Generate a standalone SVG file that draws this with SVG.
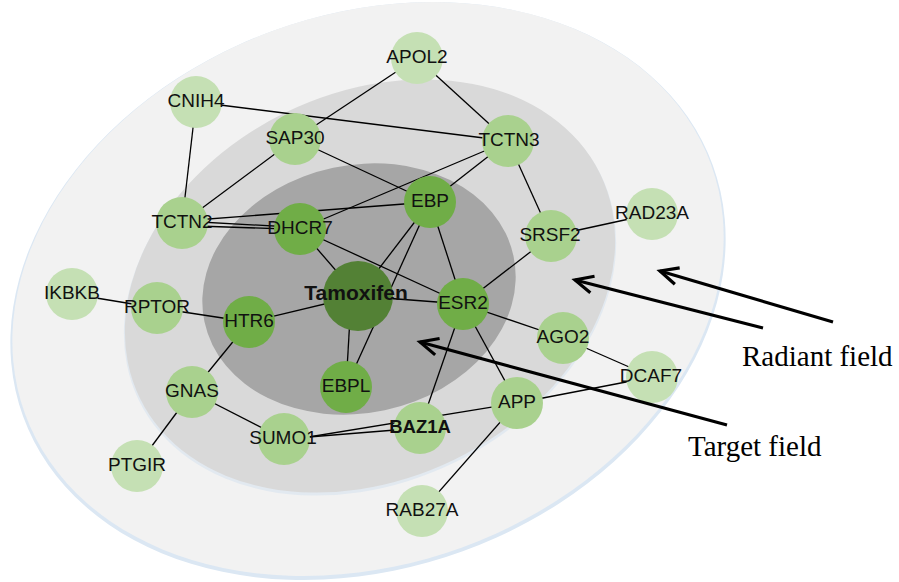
<svg xmlns="http://www.w3.org/2000/svg" width="899" height="582" viewBox="0 0 899 582">
<defs>
<style>
.edge{stroke:#000;stroke-width:1.3;fill:none}
.n1{fill:#c5e0b4}
.n2{fill:#a9d18e}
.n3{fill:#70ad47}
.n4{fill:#538135}
.lbl{font-family:"Liberation Sans",Arial,sans-serif;font-size:19px;fill:#111;text-anchor:middle}
.bold{font-weight:bold}
.arrow{stroke:#000;stroke-width:3.2;fill:none}
.cap{font-family:"Liberation Serif","Times New Roman",serif;font-size:29px;fill:#000}
</style>
<marker id="ah" markerUnits="userSpaceOnUse" viewBox="-24 -14 28 28" refX="0" refY="0" markerWidth="28" markerHeight="28" orient="auto" overflow="visible">
<path d="M-18,-8.5 L0,0 L-18,8.5" fill="none" stroke="#000" stroke-width="3.2" stroke-linejoin="miter"/>
</marker>
</defs>
<rect width="899" height="582" fill="#fff"/>
<g id="fields">
<ellipse cx="368" cy="291" rx="367" ry="277" transform="rotate(-20 368 291)" fill="#dbe7f3"/>
<ellipse cx="368" cy="289" rx="365" ry="275" transform="rotate(-20 368 289)" fill="#f2f2f2"/>
<ellipse cx="370" cy="288" rx="257" ry="194" transform="rotate(-26 370 288)" fill="#e2e9f0"/>
<ellipse cx="370" cy="286" rx="256" ry="193" transform="rotate(-26 370 286)" fill="#d9d9d9"/>
<ellipse cx="359" cy="289" rx="158" ry="124" transform="rotate(-12 359 289)" fill="#a6a6a6"/>
</g>
<g id="edges">
<line class="edge" x1="417" y1="58" x2="295" y2="139"/>
<line class="edge" x1="417" y1="58" x2="508" y2="141"/>
<line class="edge" x1="196" y1="102" x2="508" y2="141"/>
<line class="edge" x1="196" y1="102" x2="182" y2="223"/>
<line class="edge" x1="295" y1="139" x2="182" y2="223"/>
<line class="edge" x1="295" y1="139" x2="430" y2="202"/>
<line class="edge" x1="508" y1="141" x2="300" y2="229"/>
<line class="edge" x1="508" y1="141" x2="430" y2="202"/>
<line class="edge" x1="508" y1="141" x2="551" y2="236"/>
<line class="edge" x1="182" y1="221" x2="430" y2="202"/>
<line class="edge" x1="182" y1="221" x2="300" y2="227.5"/>
<line class="edge" x1="182" y1="225.5" x2="300" y2="229.5"/>
<line class="edge" x1="300" y1="229" x2="358" y2="296"/>
<line class="edge" x1="300" y1="229" x2="463" y2="304"/>
<line class="edge" x1="430" y1="202" x2="358" y2="296"/>
<line class="edge" x1="430" y1="202" x2="346" y2="387"/>
<line class="edge" x1="430" y1="202" x2="463" y2="304"/>
<line class="edge" x1="358" y1="296" x2="463" y2="304"/>
<line class="edge" x1="358" y1="296" x2="249" y2="322"/>
<line class="edge" x1="351" y1="300" x2="346" y2="387"/>
<line class="edge" x1="463" y1="304" x2="551" y2="236"/>
<line class="edge" x1="463" y1="304" x2="563" y2="338"/>
<line class="edge" x1="463" y1="304" x2="517" y2="403"/>
<line class="edge" x1="463" y1="304" x2="420" y2="428"/>
<line class="edge" x1="551" y1="236" x2="652" y2="214"/>
<line class="edge" x1="563" y1="338" x2="652" y2="377"/>
<line class="edge" x1="517" y1="403" x2="652" y2="377"/>
<line class="edge" x1="517" y1="403" x2="284" y2="441"/>
<line class="edge" x1="420" y1="428" x2="284" y2="439"/>
<line class="edge" x1="517" y1="403" x2="422" y2="511"/>
<line class="edge" x1="72" y1="294" x2="157" y2="308"/>
<line class="edge" x1="157" y1="308" x2="249" y2="322"/>
<line class="edge" x1="249" y1="322" x2="192" y2="392"/>
<line class="edge" x1="192" y1="392" x2="284" y2="439"/>
<line class="edge" x1="192" y1="392" x2="137" y2="466"/>
</g>
<g id="node-APOL2"><circle class="n1" cx="417" cy="58" r="26"/><text class="lbl" x="417" y="63">APOL2</text></g>
<g id="node-CNIH4"><circle class="n1" cx="196" cy="102" r="26"/><text class="lbl" x="196" y="107">CNIH4</text></g>
<g id="node-SAP30"><circle class="n2" cx="295" cy="139" r="26"/><text class="lbl" x="295" y="144">SAP30</text></g>
<g id="node-TCTN3"><circle class="n2" cx="508" cy="141" r="26"/><text class="lbl" x="509" y="146">TCTN3</text></g>
<g id="node-TCTN2"><circle class="n2" cx="182" cy="223" r="26"/><text class="lbl" x="182" y="228">TCTN2</text></g>
<g id="node-DHCR7"><circle class="n3" cx="300" cy="229" r="26"/><text class="lbl" x="300" y="234">DHCR7</text></g>
<g id="node-EBP"><circle class="n3" cx="430" cy="202" r="26"/><text class="lbl" x="430" y="207">EBP</text></g>
<g id="node-SRSF2"><circle class="n2" cx="551" cy="236" r="26"/><text class="lbl" x="550" y="241">SRSF2</text></g>
<g id="node-RAD23A"><circle class="n1" cx="652" cy="214" r="26"/><text class="lbl" x="652" y="219">RAD23A</text></g>
<g id="node-IKBKB"><circle class="n1" cx="72" cy="294" r="26"/><text class="lbl" x="72" y="299">IKBKB</text></g>
<g id="node-RPTOR"><circle class="n2" cx="157" cy="308" r="26"/><text class="lbl" x="157" y="313">RPTOR</text></g>
<g id="node-HTR6"><circle class="n3" cx="249" cy="322" r="26"/><text class="lbl" x="249" y="327">HTR6</text></g>
<g id="node-Tamoxifen"><circle class="n4" cx="358" cy="296" r="35"/><text class="lbl bold" x="356" y="300" style="font-size:21px">Tamoxifen</text></g>
<g id="node-ESR2"><circle class="n3" cx="463" cy="304" r="26"/><text class="lbl" x="463" y="309">ESR2</text></g>
<g id="node-AGO2"><circle class="n2" cx="563" cy="338" r="26"/><text class="lbl" x="563" y="343">AGO2</text></g>
<g id="node-DCAF7"><circle class="n1" cx="652" cy="377" r="26"/><text class="lbl" x="651" y="382">DCAF7</text></g>
<g id="node-EBPL"><circle class="n3" cx="346" cy="387" r="26"/><text class="lbl" x="346" y="392">EBPL</text></g>
<g id="node-GNAS"><circle class="n2" cx="192" cy="392" r="26"/><text class="lbl" x="192" y="397">GNAS</text></g>
<g id="node-APP"><circle class="n2" cx="517" cy="403" r="26"/><text class="lbl" x="517" y="408">APP</text></g>
<g id="node-BAZ1A"><circle class="n2" cx="420" cy="428" r="26"/><text class="lbl bold" x="420" y="433" style="font-size:18.5px">BAZ1A</text></g>
<g id="node-SUMO1"><circle class="n2" cx="284" cy="439" r="26"/><text class="lbl" x="283" y="444">SUMO1</text></g>
<g id="node-PTGIR"><circle class="n1" cx="137" cy="466" r="26"/><text class="lbl" x="137" y="471">PTGIR</text></g>
<g id="node-RAB27A"><circle class="n1" cx="422" cy="511" r="26"/><text class="lbl" x="422" y="516">RAB27A</text></g>
<g id="arrows">
<line class="arrow" x1="833" y1="322" x2="660" y2="271" marker-end="url(#ah)"/>
<line class="arrow" x1="763" y1="328" x2="575" y2="280" marker-end="url(#ah)"/>
<line class="arrow" x1="727" y1="425" x2="420" y2="342" marker-end="url(#ah)"/>
</g>
<text class="cap" x="742" y="366">Radiant field</text>
<text class="cap" x="688" y="456">Target field</text>
</svg>
